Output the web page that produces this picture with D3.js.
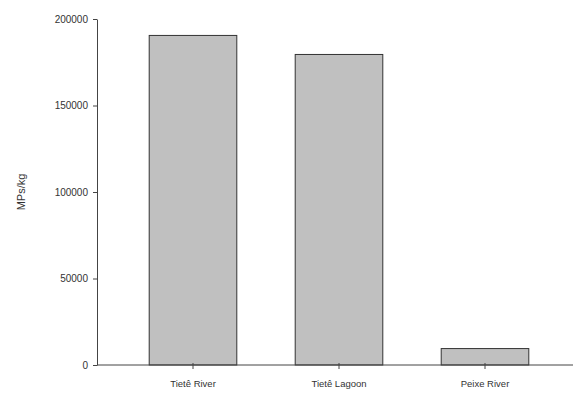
<!DOCTYPE html>
<html>
<head>
<meta charset="utf-8">
<script src="https://cdn.jsdelivr.net/npm/d3@7"></script>
<style>
  body { margin: 0; background: #fff; }
  svg { display: block; }
  text { font-family: "Liberation Sans", Arial, sans-serif; fill: #333; }
</style>
</head>
<body>
<svg id="chart" width="573" height="396"></svg>
<script>
// Microplastic concentration per site
const sites = ["Tietê River", "Tietê Lagoon", "Peixe River"];
const mpsPerKg = [190500, 179500, 9500];
const yTicks = [0, 50000, 100000, 150000, 200000];

const svg = d3.select("#chart");
const axisLeftX = 97, axisRightX = 573;
const yTop = 19, yBottom = 365;

const x = d3.scaleBand().domain(sites).range([120, 558]).paddingInner(0.4).paddingOuter(0.2);
const y = d3.scaleLinear().domain([0, 200000]).range([yBottom, yTop]);

// bars
svg.append("g").selectAll("rect")
  .data(sites.map((s, i) => ({ site: s, v: mpsPerKg[i] })))
  .join("rect")
  .attr("x", d => x(d.site))
  .attr("y", d => y(d.v))
  .attr("width", x.bandwidth())
  .attr("height", d => y(0) - y(d.v))
  .attr("fill", "#c0c0c0")
  .attr("stroke", "#333")
  .attr("stroke-width", 1);

// y axis
const yAxis = svg.append("g")
  .attr("transform", `translate(${axisLeftX},0)`)
  .call(d3.axisLeft(y).tickValues(yTicks).tickFormat(d3.format("d"))
    .tickSize(4).tickPadding(5).tickSizeOuter(0));
yAxis.select(".domain").attr("stroke", "#444");
yAxis.selectAll(".tick line").attr("stroke", "#444");
yAxis.selectAll("text").attr("font-size", 10).attr("fill", "#333");

// x axis baseline spans the full plot width
svg.append("line")
  .attr("x1", axisLeftX).attr("x2", axisRightX)
  .attr("y1", yBottom).attr("y2", yBottom)
  .attr("stroke", "#444");

const xAxis = svg.append("g")
  .attr("transform", `translate(0,${yBottom})`)
  .call(d3.axisBottom(x).tickSize(4).tickPadding(11).tickSizeOuter(0));
xAxis.select(".domain").remove();
xAxis.selectAll(".tick line").attr("stroke", "#444").attr("y1", -2);
xAxis.selectAll("text").attr("font-size", 9.5).attr("fill", "#333");

// y axis title
svg.append("text")
  .attr("transform", `translate(25,${(yTop + yBottom) / 2}) rotate(-90)`)
  .attr("text-anchor", "middle")
  .attr("font-size", 11)
  .text("MPs/kg");
</script>
</body>
</html>
